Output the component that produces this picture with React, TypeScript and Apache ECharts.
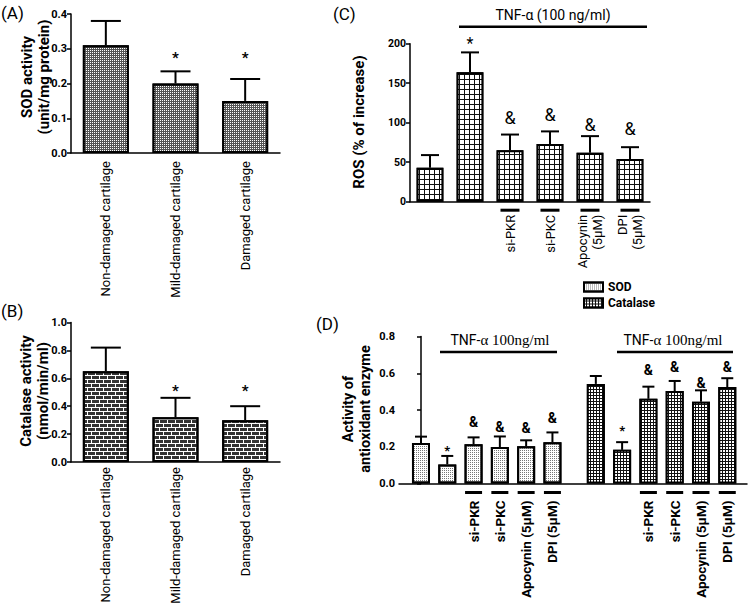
import React, { useEffect, useRef } from 'react';
import * as echarts from 'echarts';

// ---------- data ----------
const tissueCats = ['Non-damaged cartilage', 'Mild-damaged cartilage', 'Damaged cartilage'];
const sodTissue = [0.31, 0.2, 0.15];
const sodTissueErr = [0.38, 0.235, 0.213];
const sodTissueMarks = ['', '*', '*'];
const sodTissueMarkY = [0, 0.282, 0.282];

const catTissue = [0.65, 0.32, 0.3];
const catTissueErr = [0.82, 0.46, 0.4];
const catTissueMarks = ['', '*', '*'];
const catTissueMarkY = [0, 0.536, 0.536];

const rosCats = ['', '', 'si-PKR', 'si-PKC', 'Apocynin\n(5μM)', 'DPI\n(5μM)'];
const rosVals = [43, 164, 65, 73, 62, 54];
const rosErr = [59, 189, 85, 89, 83, 69];
const rosMarks = ['', '*', '&', '&', '&', '&'];
const rosMarkY = [0, 205, 107, 110, 98, 93];

const enzCats = ['', '', 'si-PKR', 'si-PKC', 'Apocynin (5μM)', 'DPI (5μM)'];
const sodCell = [0.22, 0.104, 0.213, 0.198, 0.203, 0.225];
const sodCellErr = [0.255, 0.15, 0.251, 0.256, 0.235, 0.278];
const sodCellMarks = ['', '*', '&', '&', '&', '&'];
const sodCellMarkY = [0, 0.193, 0.336, 0.309, 0.303, 0.355];
const catCell = [0.542, 0.183, 0.461, 0.503, 0.445, 0.525];
const catCellErr = [0.585, 0.225, 0.527, 0.558, 0.507, 0.573];
const catCellMarks = ['', '*', '&', '&', '&', '&'];
const catCellMarkY = [0, 0.303, 0.618, 0.636, 0.546, 0.636];

const legendNames = ['SOD', 'Catalase'];
const yTitles = ['SOD activity\n(unit/mg protein)', 'Catalase activity\n(nmol/min/ml)', 'ROS (% of increase)', 'Activity of\nantioxidant enzyme'];

// ---------- layout helpers ----------
const FONT = 'Roboto, "Liberation Sans", Arial, sans-serif';
const REG = FONT;
const GROUP_STEP = 6.65; // spacing between the two bar groups of panel D (in bar slots)
const dPos = (group: number, i: number) => i + group * GROUP_STEP;

const decalA = { symbol: 'rect', symbolSize: 1, color: '#ffffff', dashArrayX: [1, 1], dashArrayY: [1, 1], rotation: 0 };
const decalB = { symbol: 'rect', symbolSize: 1, color: '#333333', dashArrayX: [[7, 1], [3, 1, 4, 0]], dashArrayY: [3, 1], rotation: 0 };
const decalC = { symbol: 'rect', symbolSize: 1, color: '#ffffff', dashArrayX: [4, 1], dashArrayY: [4, 1], rotation: 0 };
const decalSod = { symbol: 'rect', symbolSize: 1, color: '#777777', dashArrayX: [1, 1], dashArrayY: [1, 1], rotation: 0 };
const decalCat = { symbol: 'rect', symbolSize: 1, color: '#ffffff', dashArrayX: [2, 1], dashArrayY: [2, 1], rotation: 0 };

const blackLine = { color: '#000', width: 1.5 };

function valueY(idx: number, min: number, max: number, interval: number, digits: number, labelSize: number) {
  return {
    gridIndex: idx,
    type: 'value',
    min,
    max,
    interval,
    axisLine: { show: true, lineStyle: blackLine },
    axisTick: { show: true, length: 4, lineStyle: blackLine },
    splitLine: { show: false },
    axisLabel: {
      color: '#000',
      fontWeight: 'bold',
      fontSize: labelSize,
      fontFamily: FONT,
      margin: 4,
      formatter: (v: number) => v.toFixed(digits),
    },
  };
}

function errSeries(idx: number, xs: number[], vals: number[], tops: number[], capHalf: number) {
  return {
    type: 'custom',
    xAxisIndex: idx,
    yAxisIndex: idx,
    silent: true,
    z: 1,
    data: xs.map((x, i) => [x, vals[i], tops[i]]),
    renderItem: (_p: any, api: any) => {
      const b = api.coord([api.value(0), api.value(1)]);
      const t = api.coord([api.value(0), api.value(2)]);
      const st = { stroke: '#000', lineWidth: 2 };
      return {
        type: 'group',
        children: [
          { type: 'line', shape: { x1: b[0], y1: b[1], x2: t[0], y2: t[1] }, style: st },
          { type: 'line', shape: { x1: t[0] - capHalf, y1: t[1], x2: t[0] + capHalf, y2: t[1] }, style: st },
        ],
      };
    },
  };
}

function markSeries(idx: number, xs: number[], ys: number[], texts: string[], star: { size: number; weight: string }, amp: { size: number; weight: string }) {
  return {
    type: 'custom',
    xAxisIndex: idx,
    yAxisIndex: idx,
    silent: true,
    z: 5,
    data: xs.map((x, i) => [x, ys[i]]),
    renderItem: (params: any, api: any) => {
      const t = texts[params.dataIndex];
      if (!t) return { type: 'group', children: [] };
      const p = api.coord([api.value(0), api.value(1)]);
      const f = t === '*' ? star : amp;
      const dy = t === '*' ? f.size * 0.22 : 0;
      return {
        type: 'text',
        x: p[0],
        y: p[1] + dy,
        style: { text: t, align: 'center', verticalAlign: 'middle', fontSize: f.size, fontWeight: f.weight, fontFamily: FONT, fill: '#000' },
      };
    },
  };
}

// rotated category labels drawn under the axis, optionally with a short bar above each
function labelSeries(idx: number, xs: number[], labels: string[], seg: null | { y: number; half: number }, textY: number, size: number, weight: string) {
  return {
    type: 'custom',
    xAxisIndex: idx,
    yAxisIndex: idx,
    silent: true,
    clip: false,
    z: 5,
    data: xs.map((x) => [x, 0]),
    renderItem: (params: any, api: any) => {
      const t = labels[params.dataIndex];
      if (!t) return { type: 'group', children: [] };
      const p = api.coord([api.value(0), 0]);
      const children: any[] = [];
      if (seg) children.push({ type: 'rect', shape: { x: p[0] - seg.half, y: p[1] + seg.y, width: seg.half * 2, height: 3 }, style: { fill: '#000' } });
      children.push({
        type: 'text',
        x: p[0],
        y: p[1] + textY,
        rotation: Math.PI / 2,
        style: {
          text: t, align: 'right', verticalAlign: 'middle', fontSize: size, fontWeight: weight,
          fontFamily: REG, fill: '#000', lineHeight: 15,
        },
      });
      return { type: 'group', children };
    },
  };
}

function panelText(text: string, x: number, y: number, size: number) {
  return { type: 'text', x, y, style: { text, fontSize: size, fontFamily: REG, fill: '#000', align: 'left', verticalAlign: 'middle' } };
}

function yTitle(text: string, cx: number, cy: number, size: number) {
  return {
    type: 'text', x: cx, y: cy, rotation: Math.PI / 2,
    style: { text, fontSize: size, fontWeight: 'bold', fontFamily: FONT, fill: '#000', align: 'center', verticalAlign: 'middle', lineHeight: 17 },
  };
}

function tnf(text: any, cx: number, ty: number, x1: number, x2: number, ly: number, rich?: any) {
  return [
    { type: 'text', x: cx, y: ty, style: { text, rich, fontSize: 14, fontFamily: REG, fill: '#000', align: 'center', verticalAlign: 'middle' } },
    { type: 'line', shape: { x1, y1: ly, x2, y2: ly }, style: { stroke: '#000', lineWidth: 2.5 } },
  ];
}

export default function App() {
  const ref = useRef<HTMLDivElement>(null);
  useEffect(() => {
    if (!ref.current) return;
    const chart = echarts.init(ref.current, undefined, { renderer: 'svg' });
    const idxA = tissueCats.map((_, i) => i);
    const idxC = rosCats.map((_, i) => i);
    const posSod = enzCats.map((_, i) => dPos(0, i));
    const posCat = enzCats.map((_, i) => dPos(1, i));
    const barBorder = { borderColor: '#000', borderWidth: 2 };
    const richD = {
      a: { fontSize: 14, fontFamily: REG, fill: '#000' },
      b: { fontSize: 15, fontFamily: '"Liberation Serif", "Times New Roman", serif', fill: '#000' },
    };
    const catAxis = (gridIndex: number, data: string[]) => ({
      gridIndex, type: 'category', data,
      axisLine: { show: true, lineStyle: blackLine }, axisTick: { show: false }, axisLabel: { show: false },
    });

    const option: any = {
      animation: false,
      backgroundColor: '#fff',
      textStyle: { fontFamily: FONT },
      grid: [
        { left: 71, top: 14, width: 209, height: 139 },
        { left: 71, top: 322.5, width: 209, height: 139.5 },
        { left: 410, top: 43.7, width: 240, height: 158 },
        { left: 399, top: 336.5, width: 348, height: 147 },
      ],
      xAxis: [
        catAxis(0, tissueCats),
        catAxis(1, tissueCats),
        catAxis(2, rosCats),
        {
          gridIndex: 3, type: 'value', min: -0.836, max: 12.4,
          axisLine: { show: true, lineStyle: blackLine }, axisTick: { show: false }, axisLabel: { show: false }, splitLine: { show: false },
        },
      ],
      yAxis: [
        valueY(0, 0, 0.4, 0.1, 1, 11),
        valueY(1, 0, 1, 0.2, 1, 11),
        valueY(2, 0, 200, 50, 0, 10.5),
        valueY(3, 0, 0.8, 0.2, 1, 11),
      ],
      legend: {
        data: legendNames,
        orient: 'vertical',
        left: 578,
        top: 276,
        itemWidth: 19,
        itemHeight: 9,
        itemGap: 4,
        icon: 'rect',
        textStyle: { fontWeight: 'bold', fontSize: 12, color: '#000', fontFamily: FONT },
      },
      series: [
        { type: 'bar', xAxisIndex: 0, yAxisIndex: 0, data: sodTissue, barWidth: '66%', itemStyle: { color: '#555', decal: decalA, ...barBorder }, z: 2 },
        errSeries(0, idxA, sodTissue, sodTissueErr, 15),
        markSeries(0, idxA, sodTissueMarkY, sodTissueMarks, { size: 15, weight: 'bold' }, { size: 15, weight: 'bold' }),
        labelSeries(0, idxA, tissueCats, null, 8, 13, 'normal'),

        { type: 'bar', xAxisIndex: 1, yAxisIndex: 1, data: catTissue, barWidth: '66%', itemStyle: { color: '#fff', decal: decalB, ...barBorder }, z: 2 },
        errSeries(1, idxA, catTissue, catTissueErr, 15),
        markSeries(1, idxA, catTissueMarkY, catTissueMarks, { size: 15, weight: 'bold' }, { size: 15, weight: 'bold' }),
        labelSeries(1, idxA, tissueCats, null, 5, 13, 'normal'),

        { type: 'bar', xAxisIndex: 2, yAxisIndex: 2, data: rosVals, barWidth: '67%', itemStyle: { color: '#111', decal: decalC, ...barBorder }, z: 2 },
        errSeries(2, idxC, rosVals, rosErr, 9),
        markSeries(2, idxC, rosMarkY, rosMarks, { size: 16, weight: 'normal' }, { size: 18, weight: 'normal' }),
        labelSeries(2, idxC, rosCats, { y: 7, half: 9.5 }, 13, 13, 'normal'),

        {
          type: 'bar', name: 'SOD', xAxisIndex: 3, yAxisIndex: 3, data: sodCell.map((v, i) => [posSod[i], v]),
          barWidth: 18, barGap: '-100%', itemStyle: { color: '#fff', decal: decalSod, ...barBorder }, z: 2,
        },
        {
          type: 'bar', name: 'Catalase', xAxisIndex: 3, yAxisIndex: 3, data: catCell.map((v, i) => [posCat[i], v]),
          barWidth: 18, barGap: '-100%', itemStyle: { color: '#111', decal: decalCat, ...barBorder }, z: 2,
        },
        errSeries(3, posSod, sodCell, sodCellErr, 6),
        errSeries(3, posCat, catCell, catCellErr, 6),
        markSeries(3, posSod, sodCellMarkY, sodCellMarks, { size: 13, weight: 'bold' }, { size: 14, weight: 'bold' }),
        markSeries(3, posCat, catCellMarkY, catCellMarks, { size: 13, weight: 'bold' }, { size: 14, weight: 'bold' }),
        labelSeries(3, posSod, enzCats, { y: 7.5, half: 8.5 }, 17, 13.5, 'bold'),
        labelSeries(3, posCat, enzCats, { y: 7.5, half: 8.5 }, 17, 13.5, 'bold'),
      ],
      graphic: [
        panelText('(A)', 1, 13, 17),
        panelText('(B)', 1, 311, 17),
        panelText('(C)', 333, 14, 17),
        panelText('(D)', 316, 324, 17),
        yTitle(yTitles[0], 35, 77, 15),
        yTitle(yTitles[1], 34, 391, 15),
        yTitle(yTitles[2], 359, 122, 15),
        yTitle(yTitles[3], 357, 409, 14.5),
        ...tnf('TNF-α (100 ng/ml)', 553, 15, 459, 647, 26.7),
        ...tnf('{a|TNF-}{b|α 100ng/ml}', 500, 340, 440, 557, 352, richD),
        ...tnf('{a|TNF-}{b|α 100ng/ml}', 673, 340, 617, 733, 352, richD),
      ],
    };
    chart.setOption(option);
    return () => chart.dispose();
  }, []);
  return <div ref={ref} style={{ position: 'fixed', left: 0, top: 0, width: 750, height: 606, background: '#fff' }} />;
}
